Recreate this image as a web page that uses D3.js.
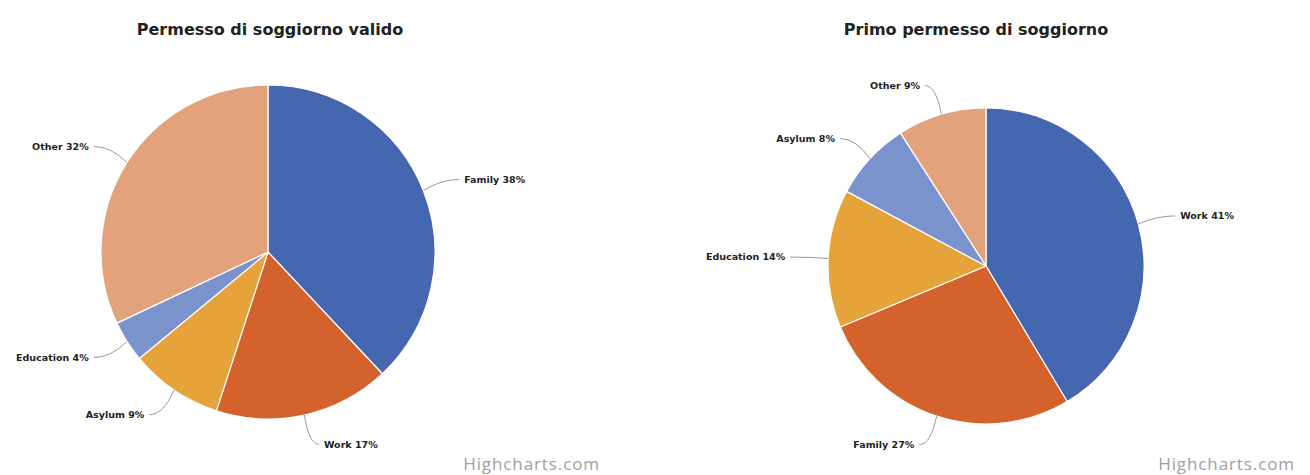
<!DOCTYPE html>
<html>
<head>
<meta charset="utf-8">
<script src="https://cdn.jsdelivr.net/npm/d3@7/dist/d3.min.js"></script>
<style>
  html, body { margin: 0; padding: 0; background: #fff; }
  svg { display: block; }
</style>
</head>
<body>
<svg id="chart" width="1310" height="475"></svg>
<script>
// Residence permits by reason (share of total, %)
const validCategories = ["Family", "Work", "Asylum", "Education", "Other"];
const validValues = [38, 17, 9, 4, 32];

const firstCategories = ["Work", "Family", "Education", "Asylum", "Other"];
const firstValues = [41, 27, 14, 8, 9];

const titles = ["Permesso di soggiorno valido", "Primo permesso di soggiorno"];
const credit = "Highcharts.com";

// slice colours follow the point order within each pie
const palette = ["#4467b0", "#d4622c", "#e5a339", "#7a93cd", "#e2a27c"];

const svg = d3.select("#chart");

const panels = [
  { title: titles[0], cats: validCategories, vals: validValues,
    cx: 268, cy: 252, r: 167, titleX: 270, creditX: 600 },
  { title: titles[1], cats: firstCategories, vals: firstValues,
    cx: 986, cy: 266, r: 158, titleX: 976, creditX: 1295 }
];

const pie = d3.pie().sort(null).value(d => d.value);
const labelDistance = 30;

panels.forEach(p => {
  const g = svg.append("g");
  const color = d3.scaleOrdinal().domain(p.cats).range(palette);

  g.append("text")
    .attr("x", p.titleX)
    .attr("y", 35)
    .attr("text-anchor", "middle")
    .attr("font-family", "'DejaVu Sans', sans-serif")
    .attr("font-weight", "bold")
    .attr("font-size", 16)
    .attr("fill", "#222")
    .text(p.title);

  const data = p.cats.map((c, i) => ({ name: c, value: p.vals[i] }));
  const arcs = pie(data);
  const arc = d3.arc().innerRadius(0).outerRadius(p.r);

  const plot = g.append("g").attr("transform", `translate(${p.cx},${p.cy})`);

  plot.selectAll("path.slice")
    .data(arcs)
    .enter().append("path")
    .attr("class", "slice")
    .attr("d", arc)
    .attr("fill", d => color(d.data.name))
    .attr("stroke", "#fff")
    .attr("stroke-width", 1.2)
    .attr("stroke-linejoin", "round");

  // data labels with soft connectors
  arcs.forEach(d => {
    const a = (d.startAngle + d.endAngle) / 2;
    const s = Math.sin(a), c = Math.cos(a);
    const right = s >= 0;
    const ex = p.r * s, ey = -p.r * c;
    const L = p.r + labelDistance;
    const lx = L * s, ly = -L * c;
    const endX = lx + (right ? 8 : -8);
    const bx = (p.r + 12) * s;

    plot.append("path")
      .attr("d", `M${ex},${ey} Q${bx + (lx - bx) * 0.4},${ly} ${endX},${ly}`)
      .attr("fill", "none")
      .attr("stroke", "#9a9a9a")
      .attr("stroke-width", 1);

    plot.append("text")
      .attr("x", lx + (right ? 13 : -13))
      .attr("y", ly)
      .attr("dy", "0.35em")
      .attr("text-anchor", right ? "start" : "end")
      .attr("font-family", "'DejaVu Sans', sans-serif")
      .attr("font-weight", "bold")
      .attr("font-size", 9.5)
      .attr("fill", "#222")
      .text(`${d.data.name} ${d.data.value}%`);
  });

  g.append("text")
    .attr("x", p.creditX)
    .attr("y", 470)
    .attr("text-anchor", "end")
    .attr("font-family", "'Open Sans', sans-serif")
    .attr("font-size", 17)
    .attr("letter-spacing", 0.9)
    .attr("fill", "#a0a0a0")
    .text(credit);
});
</script>
</body>
</html>
